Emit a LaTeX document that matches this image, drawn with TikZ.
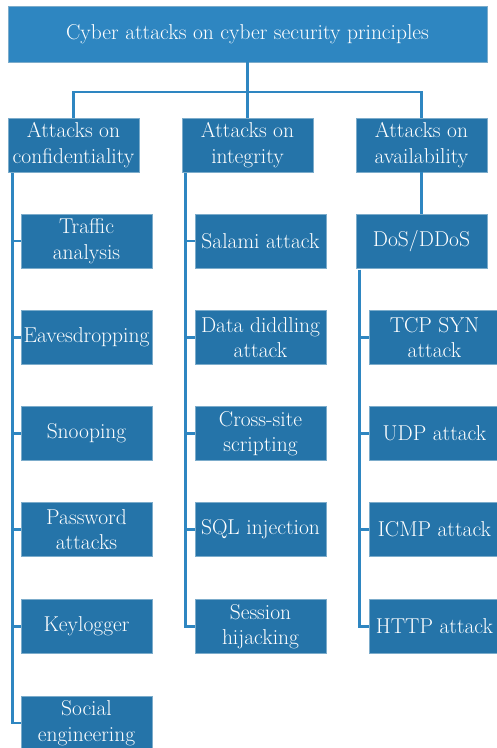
\documentclass[tikz,border=0pt]{standalone}
\usepackage{fontspec}
\usetikzlibrary{calc}
\definecolor{top-blue}{RGB}{46,134,193}
\definecolor{box-blue}{RGB}{37,116,169}
\definecolor{line-blue}{RGB}{46,134,193}

\begin{document}
\begin{tikzpicture}[x=1pt,y=-1pt,
  box/.style={fill=box-blue, draw=box-blue!60!white, line width=0.6pt, text=white,
    minimum width=131pt, minimum height=54pt, inner sep=0pt, align=center,
    font=\fontsize{21.5}{25.5}\selectfont},
  link/.style={draw=line-blue, line width=2.6pt}]
\useasboundingbox (0,0) rectangle (496,748);

\node[box, fill=top-blue, minimum width=479pt, minimum height=56pt] (top) at (247.5,34) {Cyber attacks on cyber security principles};

\node[box] (conf) at (73.5,145) {Attacks on\\confidentiality};
\node[box] (integ) at (247.5,145) {Attacks on\\integrity};
\node[box] (avail) at (421.5,145) {Attacks on\\availability};

% confidentiality
\node[box] (traffic) at (86.5,241) {Traffic\\analysis};
\node[box] (eaves) at (86.5,337.5) {Eavesdropping};
\node[box] (snoop) at (86.5,433.5) {Snooping};
\node[box] (passwd) at (86.5,529.5) {Password\\attacks};
\node[box] (keylog) at (86.5,626.5) {Keylogger};
\node[box] (social) at (86.5,723) {Social\\engineering};

% integrity
\node[box] (salami) at (260.5,241) {Salami attack};
\node[box] (diddle) at (260.5,337.5) {Data diddling\\attack};
\node[box] (xss) at (260.5,433.5) {Cross-site\\scripting};
\node[box] (sqli) at (260.5,529.5) {SQL injection};
\node[box] (session) at (260.5,626.5) {Session\\hijacking};

% availability
\node[box] (dos) at (421.5,241.5) {DoS/DDoS};
\node[box] (tcpsyn) at (434.5,337.5) {TCP SYN\\attack};
\node[box] (udp) at (434.5,433.5) {UDP attack};
\node[box] (icmp) at (434.5,529.5) {ICMP attack};
\node[box] (http) at (434.5,626.5) {HTTP attack};

% connectors
\coordinate (split) at (247.5,92);
\draw[link] (top.south) -- (split);
\draw[link] (conf.north) |- (split) -| (avail.north);
\draw[link] (split) -- (integ.north);
\draw[link] (avail.south) -- (dos.north);

\coordinate (cbus) at ($(conf.south west)+(4.5,1)$);
\coordinate (ibus) at ($(integ.south west)+(4,1)$);
\coordinate (abus) at ($(dos.south west)+(4,1)$);
\foreach \n in {traffic,eaves,snoop,passwd,keylog,social}
  \draw[link] (cbus) |- (\n.west);
\foreach \n in {salami,diddle,xss,sqli,session}
  \draw[link] (ibus) |- (\n.west);
\foreach \n in {tcpsyn,udp,icmp,http}
  \draw[link] (abus) |- (\n.west);
\end{tikzpicture}
\end{document}
